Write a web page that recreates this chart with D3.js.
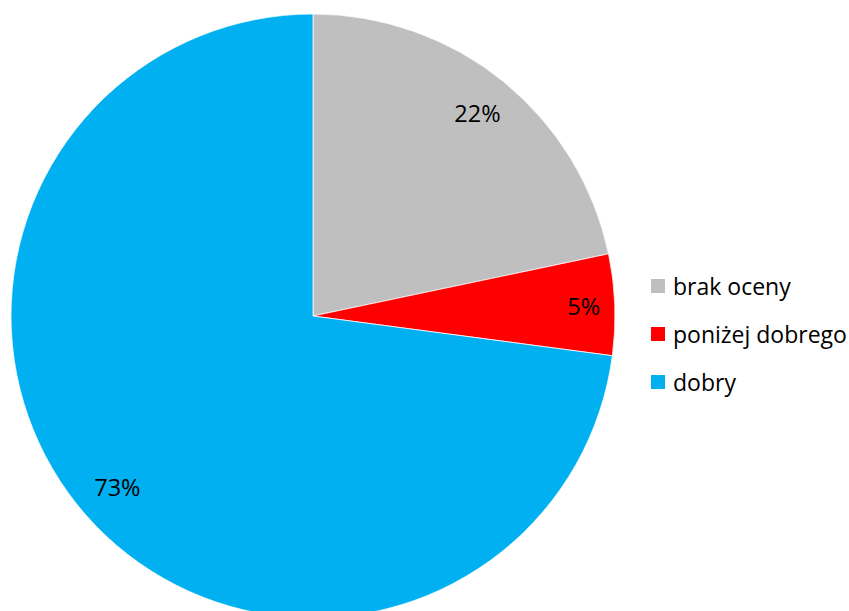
<!DOCTYPE html>
<html>
<head>
<meta charset="utf-8">
<script src="https://cdn.jsdelivr.net/npm/d3@7"></script>
<style>
  body { margin: 0; background: #fff; }
  svg { display: block; }
</style>
</head>
<body>
<div id="chart"></div>
<script>
const FRAME_WIDTH = 849;
const FRAME_HEIGHT = 611;

// data
const CATEGORIES = ["brak oceny", "poniżej dobrego", "dobry"];
const VALUES = [21.7, 5.4, 72.9];
const COLORS = ["#BFBFBF", "#FF0000", "#00B0F0"];

const CENTER = {x: 313, y: 316};
const RADIUS = 302;
const FONT = "'Open Sans', 'Liberation Sans', sans-serif";

const FRAME = d3.select("#chart")
        .append("svg")
          .attr("width", FRAME_WIDTH)
          .attr("height", FRAME_HEIGHT);

const COLOR_SCALE = d3.scaleOrdinal()
    .domain(CATEGORIES)
    .range(COLORS);

const data = CATEGORIES.map((c, i) => ({name: c, value: VALUES[i]}));

const pie = d3.pie()
    .value(d => d.value)
    .sort(null);

const arc = d3.arc()
    .innerRadius(0)
    .outerRadius(RADIUS);

const arcs = pie(data);

const G = FRAME.append("g")
    .attr("transform", "translate(" + CENTER.x + "," + CENTER.y + ")");

G.selectAll("path")
  .data(arcs)
  .enter()
  .append("path")
    .attr("d", arc)
    .attr("fill", d => COLOR_SCALE(d.data.name))
    .attr("stroke", "#fff")
    .attr("stroke-width", 0.75);

// labels: placed inside, near the edge (best fit style)
const total = d3.sum(VALUES);
const PAD = 14;
G.selectAll("text.lbl")
  .data(arcs)
  .enter()
  .append("text")
    .attr("class", "lbl")
    .attr("font-family", FONT)
    .attr("font-size", "23.5px")
    .attr("fill", "#000")
    .attr("text-anchor", "middle")
    .attr("dominant-baseline", "central")
    .text(d => Math.round(d.data.value / total * 100) + "%")
    .each(function(d) {
      const bb = this.getBBox();
      const a = (d.startAngle + d.endAngle) / 2;
      const ux = Math.sin(a), uy = -Math.cos(a);
      const ext = Math.abs(ux) * bb.width / 2 + Math.abs(uy) * bb.height / 2;
      const dist = RADIUS - PAD - ext;
      d3.select(this).attr("x", ux * dist).attr("y", uy * dist);
    });

// legend
const LEGEND = FRAME.append("g")
    .attr("transform", "translate(651,279)");

const items = LEGEND.selectAll("g")
  .data(CATEGORIES)
  .enter()
  .append("g")
    .attr("transform", (d, i) => "translate(0," + (i * 48) + ")");

items.append("rect")
    .attr("width", 14)
    .attr("height", 14)
    .attr("fill", d => COLOR_SCALE(d));

items.append("text")
    .attr("x", 22)
    .attr("y", 7)
    .attr("dominant-baseline", "central")
    .attr("font-family", FONT)
    .attr("font-size", "23px")
    .attr("fill", "#000")
    .text(d => d);
</script>
</body>
</html>
